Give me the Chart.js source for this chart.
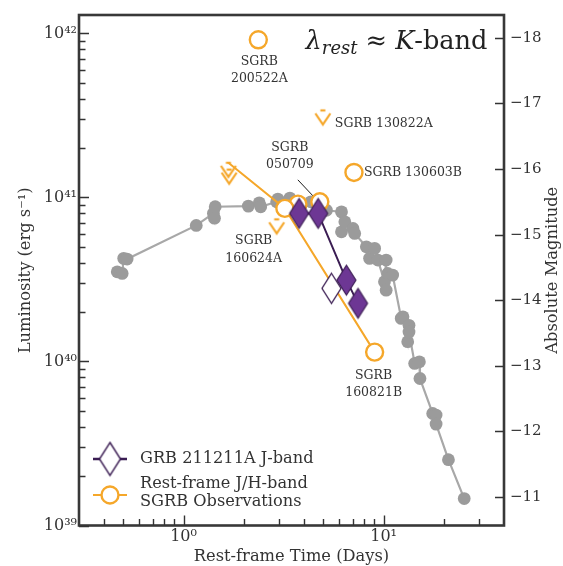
<!DOCTYPE html>
<html><head><meta charset="utf-8">
<script src="https://cdn.jsdelivr.net/npm/chart.js@4.4.1/dist/chart.umd.min.js"></script>
<style>html,body{margin:0;padding:0;background:#fff;}#wrap{width:563px;height:566px;}</style>
</head><body><div id="wrap"><canvas id="c" width="563" height="566"></canvas></div>
<script>
// ---------------- DATA ----------------
// Comparison kilonova light curve (grey)
const grayTimes = [0.466,0.493,0.502,0.522,1.157,1.41,1.427,1.439,2.108,2.39,2.43,2.92,2.96,3.40,4.33,5.18,6.16,6.16,6.40,7.03,7.17,8.20,8.51,9.02,9.37,10.1,10.3,10.3,10.5,11.1,12.25,12.5,13.2,13.4,13.4,14.3,15.1,15.2,17.6,18.3,18.3,21.1,25.3];
const grayLum   = [3.52e40,3.44e40,4.25e40,4.21e40,6.75e40,7.99e40,7.47e40,8.77e40,8.85e40,9.27e40,8.77e40,9.4e40,9.77e40,9.9e40,9.4e40,8.35e40,8.16e40,6.17e40,7.10e40,6.47e40,6.03e40,5.0e40,4.25e40,4.89e40,4.15e40,3.06e40,4.15e40,2.72e40,3.44e40,3.36e40,1.83e40,1.87e40,1.32e40,1.66e40,1.51e40,9.73e39,9.95e39,7.87e39,4.82e39,4.71e39,4.15e39,2.52e39,1.46e39];
// GRB 211211A J-band
const grbTimes = [3.78,4.71,6.52,7.45];
const grbLum   = [7.99e40,7.99e40,3.13e40,2.26e40];
const grbOpenTimes = [5.49];
const grbOpenLum   = [2.79e40];
// SGRB 160821B light curve (upper limit, detection, detection)
const sgrbLineName = '160821B';
const sgrbLineTimes = [1.675,3.21,9.02];
const sgrbLineLum   = [1.626e41,8.57e40,1.14e40];
const sgrbLineIsLimit = [true,false,false];
// Other SGRB detections
const sgrbDetNames = ['200522A','050709','130603B',''];
const sgrbDetTimes = [2.364,4.80,7.11,3.73];
const sgrbDetLum   = [9.14e41,9.4e40,1.42e41,9.1e40];
// Other SGRB upper limits
const sgrbLimNames = ['130822A','160624A',''];
const sgrbLimTimes = [4.97,2.92,1.69];
const sgrbLimLum   = [3.39e41,7.35e40,1.477e41];
// Tick labels
const lumTickExps = [39,40,41,42];
const timeTickExps = [0,1];
const magTicks = [-18,-17,-16,-15,-14,-13,-12,-11];

// ---------------- STYLE / SCALE SETTINGS ----------------
const ORANGE = '#f5a72a', PURPLE = '#6d3794', DPURPLE = '#3b1d53', GREY = '#9b9b9b', GREYLINE = '#a8a8a8', INK = '#333333';
const FONT = "'DejaVu Serif', serif";
const xMin = 0.3, xMax = 40, lumMin = 1e39, lumMax = 1.294e42, magZero = 86.933;
const magTop = magZero - 2.5*Math.log10(lumMax), magBottom = magZero - 2.5*Math.log10(lumMin);

const SUP = {'0':'⁰','1':'¹','2':'²','3':'³','4':'⁴','5':'⁵','6':'⁶','7':'⁷','8':'⁸','9':'⁹','-':'⁻'};
const sup = s => String(s).split('').map(c => SUP[c]).join('');
const isDecade = v => { const e = Math.log10(v); return Math.abs(e - Math.round(e)) < 1e-9; };
function logTicks(lo, hi) {
  const out = [];
  for (let e = Math.floor(Math.log10(lo)); e <= Math.ceil(Math.log10(hi)); e++)
    for (let m = 1; m <= 9; m++) { const v = m * Math.pow(10, e); if (v >= lo*0.9999 && v <= hi) out.push(v); }
  return out;
}
const xTickVals = logTicks(xMin * 1.01, xMax * 0.99);
const yTickVals = logTicks(lumMin, lumMax);

// ---------------- POINT STYLES ----------------
function makeDiamond(fill, stroke, lw, hw, hh) {
  const c = document.createElement('canvas'); c.width = 2*hw + 4; c.height = 2*hh + 4;
  const g = c.getContext('2d'), cx = hw + 2, cy = hh + 2;
  g.beginPath(); g.moveTo(cx, cy - hh); g.lineTo(cx + hw, cy); g.lineTo(cx, cy + hh); g.lineTo(cx - hw, cy); g.closePath();
  g.fillStyle = fill; g.fill(); g.lineWidth = lw; g.strokeStyle = stroke; g.stroke();
  return c;
}
function makeLimit(color) {
  const c = document.createElement('canvas'); c.width = 20; c.height = 34;
  const g = c.getContext('2d');
  g.strokeStyle = color; g.lineWidth = 2.2; g.lineCap = 'butt';
  g.beginPath(); g.moveTo(7.5,17); g.lineTo(12.5,17); g.stroke();
  g.beginPath(); g.moveTo(2.5,20); g.lineTo(10,31); g.lineTo(17.5,20); g.stroke();
  return c;
}
const diamondFilled = makeDiamond(PURPLE, DPURPLE, 1.2, 9.5, 15);
const diamondOpen = makeDiamond('#ffffff', DPURPLE, 1.3, 9.5, 15);
const diamondLegend = makeDiamond('#ffffff', DPURPLE, 1.4, 10.5, 16.5);
const limitMark = makeLimit(ORANGE);
const pts = (xs, ys) => xs.map((x, i) => ({x, y: ys[i]}));

// ---------------- ANNOTATIONS ----------------
const annotations = [
  {ds: 'det',  i: 0, lines: ['SGRB', sgrbDetNames[0]], dx: 1,   dy: [22, 39],   align: 'center'},
  {ds: 'lim',  i: 0, lines: ['SGRB ' + sgrbLimNames[0]], dx: 12, dy: [13],     align: 'left'},
  {ds: 'det',  i: 1, lines: ['SGRB', sgrbDetNames[1]], dx: -30, dy: [-54, -37], align: 'center', leader: [-22, -22, -6, -5]},
  {ds: 'det',  i: 2, lines: ['SGRB ' + sgrbDetNames[2]], dx: 10, dy: [0],      align: 'left'},
  {ds: 'lim',  i: 1, lines: ['SGRB', sgrbLimNames[1]], dx: -23, dy: [21, 39],   align: 'center'},
  {ds: 'line', i: 2, lines: ['SGRB', sgrbLineName],    dx: -1,  dy: [24, 41],   align: 'center'},
];
const annSource = {det: [sgrbDetTimes, sgrbDetLum], lim: [sgrbLimTimes, sgrbLimLum], line: [sgrbLineTimes, sgrbLineLum]};

function drawTicks(chart) {
  const ctx = chart.ctx, ca = chart.chartArea;
  const x = chart.scales.x, y = chart.scales.y, y2 = chart.scales.y2;
  ctx.save();
  ctx.setLineDash([]);
  ctx.strokeStyle = '#333333';
  ctx.lineWidth = 1.4;
  ctx.beginPath();
  xTickVals.forEach(v => {
    const px = Math.round(x.getPixelForValue(v)) + 0.5, len = isDecade(v) ? 10 : 6.5;
    ctx.moveTo(px, ca.bottom); ctx.lineTo(px, ca.bottom - len);
  });
  yTickVals.forEach(v => {
    const py = Math.round(y.getPixelForValue(v)) + 0.5, len = isDecade(v) ? 10 : 6.5;
    ctx.moveTo(ca.left, py); ctx.lineTo(ca.left + len, py);
  });
  magTicks.forEach(v => {
    const py = Math.round(y2.getPixelForValue(v)) + 0.5;
    ctx.moveTo(ca.right, py); ctx.lineTo(ca.right - 9, py);
  });
  ctx.stroke();
  ctx.restore();
}

const deco = {
  id: 'deco',
  beforeDatasetsDraw(chart) {
    const {ctx, scales: {x, y}} = chart;
    ctx.save();
    ctx.strokeStyle = '#1a1a1a'; ctx.lineWidth = 1;
    annotations.forEach(a => {
      if (!a.leader) return;
      const src = annSource[a.ds];
      const px = x.getPixelForValue(src[0][a.i]), py = y.getPixelForValue(src[1][a.i]);
      ctx.beginPath(); ctx.moveTo(px + a.leader[0], py + a.leader[1]); ctx.lineTo(px + a.leader[2], py + a.leader[3]); ctx.stroke();
    });
    ctx.restore();
  },
  afterDraw(chart) {
    const {ctx, chartArea: ca} = chart;
    const x = chart.scales.x, y = chart.scales.y;
    ctx.save();
    ctx.setLineDash([]);
    ctx.strokeStyle = '#383838'; ctx.lineWidth = 2.6;
    ctx.strokeRect(ca.left, ca.top, ca.right - ca.left, ca.bottom - ca.top);
    ctx.restore();
    drawTicks(chart);
    ctx.save();

    // annotation labels
    ctx.fillStyle = INK; ctx.font = `12.5px ${FONT}`; ctx.textBaseline = 'middle';
    annotations.forEach(a => {
      const src = annSource[a.ds];
      const px = x.getPixelForValue(src[0][a.i]), py = y.getPixelForValue(src[1][a.i]);
      ctx.textAlign = a.align;
      a.lines.forEach((s, k) => ctx.fillText(s, px + a.dx, py + a.dy[k]));
    });

    // title  λ_rest ≈ K-band
    const tLeft = 305.5, tRight = 487.5, tBase = 49;
    const mk = fs => [
      {t: 'λ', f: `italic ${fs}px ${FONT}`, dy: 0},
      {t: 'rest', f: `italic ${fs*0.7}px ${FONT}`, dy: fs*0.2},
      {t: ' ≈ ', f: `${fs}px ${FONT}`, dy: 0},
      {t: 'K', f: `italic ${fs}px ${FONT}`, dy: 0},
      {t: '-band', f: `${fs}px ${FONT}`, dy: 0},
    ];
    const widthOf = parts => parts.reduce((s, p) => { ctx.font = p.f; p.w = ctx.measureText(p.t).width; return s + p.w; }, 0);
    let fs = 28; let w = widthOf(mk(fs)); fs = fs * (tRight - tLeft) / w;
    const parts = mk(fs); w = widthOf(parts);
    let cx = tRight - w;
    ctx.textAlign = 'left'; ctx.textBaseline = 'alphabetic'; ctx.fillStyle = '#222';
    parts.forEach(p => { ctx.font = p.f; ctx.fillText(p.t, cx, tBase + p.dy); cx += p.w; });

    // legend
    const ds = chart.data.datasets;
    const lgX = 110, lg1 = 459, lg2 = 495;
    ctx.strokeStyle = DPURPLE; ctx.lineWidth = 2.6;
    ctx.beginPath(); ctx.moveTo(lgX - 17, lg1); ctx.lineTo(lgX + 17, lg1); ctx.stroke();
    ctx.drawImage(diamondLegend, lgX - diamondLegend.width / 2, lg1 - diamondLegend.height / 2);
    ctx.strokeStyle = ORANGE; ctx.lineWidth = 2.2;
    ctx.beginPath(); ctx.moveTo(lgX - 17, lg2); ctx.lineTo(lgX + 17, lg2); ctx.stroke();
    ctx.beginPath(); ctx.arc(lgX, lg2, 8.5, 0, Math.PI * 2); ctx.fillStyle = '#fff'; ctx.fill();
    ctx.lineWidth = 2.4; ctx.stroke();
    ctx.fillStyle = INK; ctx.font = `16.2px ${FONT}`; ctx.textBaseline = 'middle'; ctx.textAlign = 'left';
    ctx.fillText(ds[0].label, 140, lg1);
    const l2 = ds[2].label.split('\n');
    ctx.fillText(l2[0], 140, 484); ctx.fillText(l2[1], 140, 502);

    // axis titles
    ctx.font = `16.3px ${FONT}`; ctx.textAlign = 'center'; ctx.textBaseline = 'middle';
    ctx.fillText('Rest-frame Time (Days)', (ca.left + ca.right) / 2, 557);
    ctx.save(); ctx.translate(26, (ca.top + ca.bottom) / 2); ctx.rotate(-Math.PI / 2);
    ctx.fillText('Luminosity (erg s' + sup('-1') + ')', 0, 0); ctx.restore();
    ctx.save(); ctx.translate(553, (ca.top + ca.bottom) / 2); ctx.rotate(-Math.PI / 2);
    ctx.fillText('Absolute Magnitude', 0, 0); ctx.restore();
    ctx.restore();
  }
};

const zeroPad = s => { s.paddingTop = 0; s.paddingBottom = 0; s.paddingLeft = 0; s.paddingRight = 0; };

new Chart(document.getElementById('c'), {
  type: 'scatter',
  data: {
    datasets: [
      {label: 'GRB 211211A J-band', data: pts(grbTimes, grbLum), showLine: true, borderColor: DPURPLE, borderWidth: 2,
       pointStyle: diamondFilled, pointRadius: 10, order: 1},
      {label: 'GRB 211211A J-band (open)', data: pts(grbOpenTimes, grbOpenLum), showLine: false,
       pointStyle: diamondOpen, pointRadius: 10, order: 2},
      {label: 'Rest-frame J/H-band\nSGRB Observations', data: pts(sgrbLineTimes, sgrbLineLum), showLine: true,
       borderColor: ORANGE, borderWidth: 2, pointBorderColor: ORANGE, pointBackgroundColor: '#fff', pointBorderWidth: 2.4,
       pointStyle: sgrbLineIsLimit.map(l => l ? limitMark : 'circle'), pointRadius: 8.5, order: 3},
      {label: 'SGRB detections', data: pts(sgrbDetTimes, sgrbDetLum), showLine: false,
       pointBorderColor: ORANGE, pointBackgroundColor: '#fff', pointBorderWidth: 2.4, pointStyle: 'circle', pointRadius: 8.5, order: 4},
      {label: 'SGRB upper limits', data: pts(sgrbLimTimes, sgrbLimLum), showLine: false,
       pointStyle: limitMark, pointRadius: 8, order: 5},
      {label: 'Comparison kilonova', data: pts(grayTimes, grayLum), showLine: true, borderColor: GREYLINE, borderWidth: 2.2,
       pointBackgroundColor: GREY, pointBorderWidth: 0, pointRadius: 6.4, order: 6},
    ]
  },
  options: {
    responsive: false, animation: false, devicePixelRatio: 1, events: [],
    layout: {padding: {top: 15, left: 0, right: 0, bottom: 0}},
    plugins: {legend: {display: false}, tooltip: {enabled: false}},
    scales: {
      x: {type: 'logarithmic', position: 'bottom', min: xMin, max: xMax,
        grid: {display: false, drawTicks: false}, border: {display: false},
        ticks: {autoSkip: false, maxRotation: 0, minRotation: 0, padding: 2, color: INK, font: {family: FONT, size: 16},
          callback: v => (isDecade(v) && timeTickExps.includes(Math.round(Math.log10(v)))) ? '10' + sup(Math.round(Math.log10(v))) : ''},
        afterBuildTicks: s => { s.ticks = xTickVals.map(v => ({value: v})); },
        afterFit: s => { s.height = 566 - 525.5; zeroPad(s); }},
      y: {type: 'logarithmic', position: 'left', min: lumMin, max: lumMax,
        grid: {display: false, drawTicks: false}, border: {display: false},
        ticks: {autoSkip: false, padding: 2, color: INK, font: {family: FONT, size: 16},
          callback: v => (isDecade(v) && lumTickExps.includes(Math.round(Math.log10(v)))) ? '10' + sup(Math.round(Math.log10(v))) : ''},
        afterBuildTicks: s => { s.ticks = yTickVals.map(v => ({value: v})); },
        afterFit: s => { s.width = 79; zeroPad(s); }},
      y2: {type: 'linear', position: 'right', reverse: true, min: magTop, max: magBottom,
        grid: {display: false, drawTicks: false}, border: {display: false},
        ticks: {autoSkip: false, padding: 6, color: INK, font: {family: FONT, size: 15},
          callback: v => String(v).replace('-', '−')},
        afterBuildTicks: s => { s.ticks = magTicks.map(v => ({value: v})); },
        afterFit: s => { s.width = 563 - 504; zeroPad(s); }},
    }
  },
  plugins: [deco]
});
</script></body></html>
